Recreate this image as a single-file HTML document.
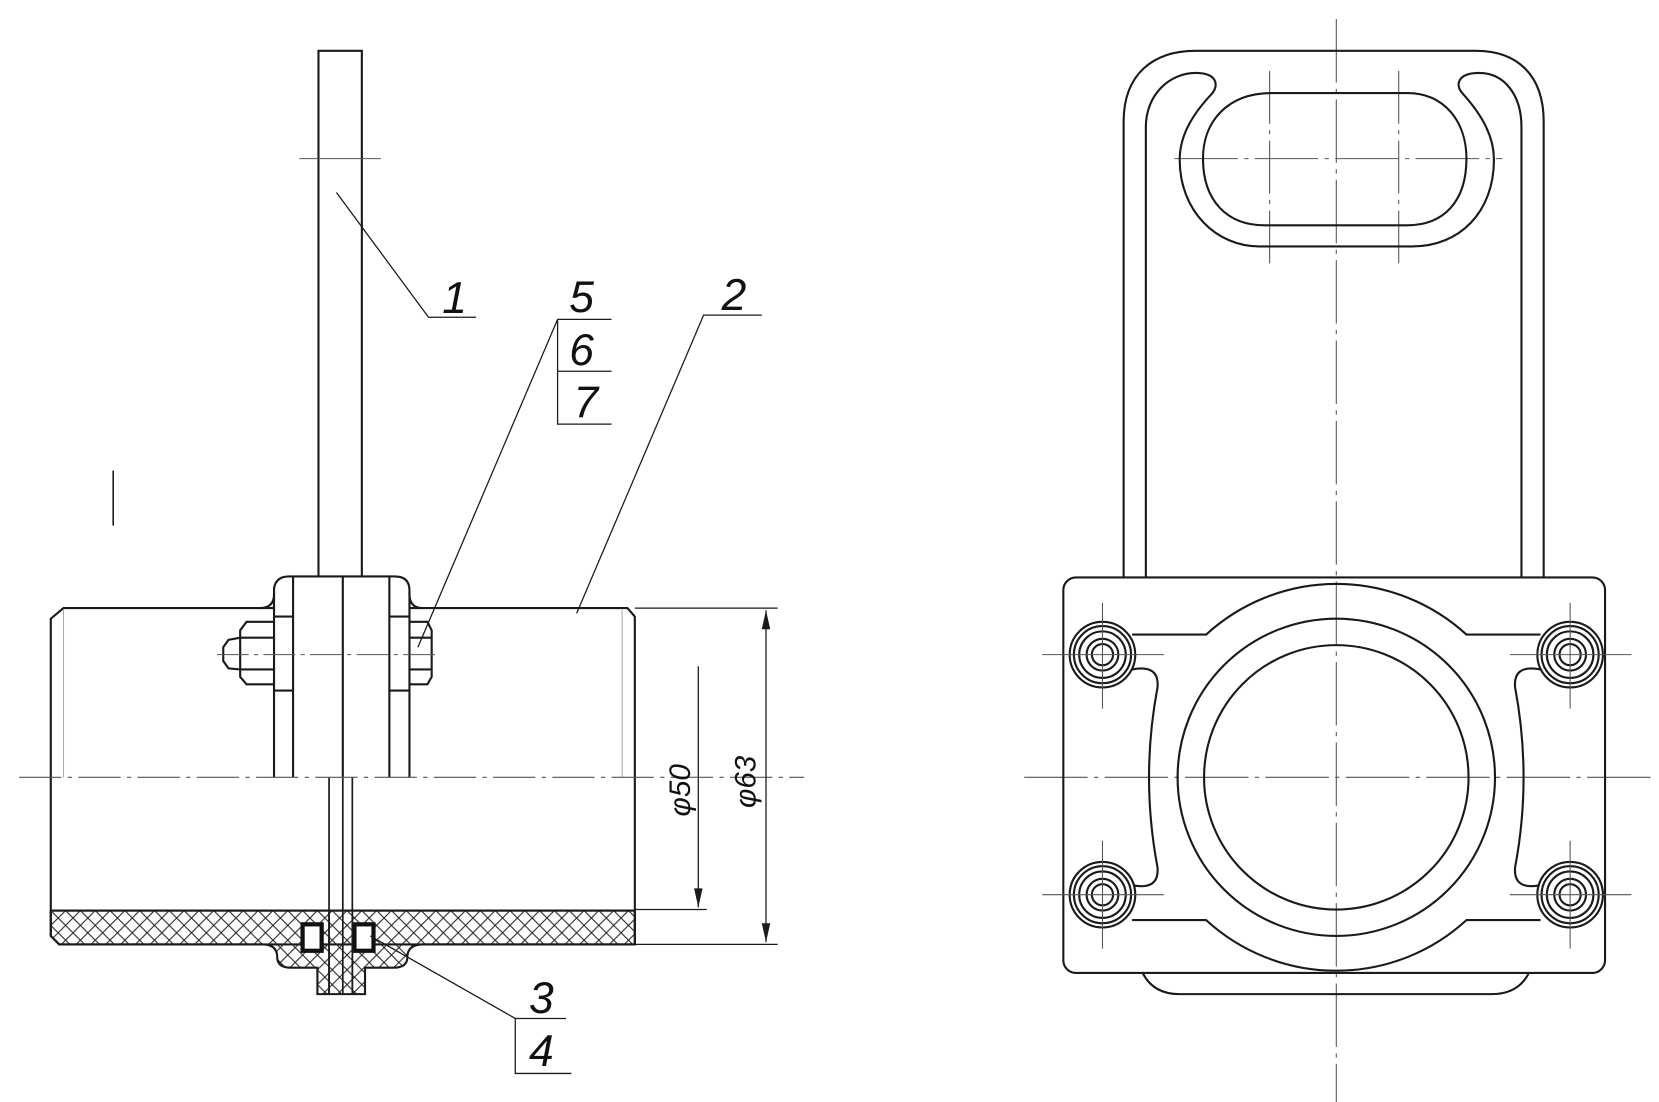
<!DOCTYPE html>
<html><head><meta charset="utf-8"><style>
html,body{margin:0;padding:0;background:#fff;width:1659px;height:1102px;overflow:hidden}
svg{display:block}
text{font-family:"Liberation Sans",sans-serif;font-style:italic;fill:#111}
</style></head><body>
<svg width="1659" height="1102" viewBox="0 0 1568 1042" preserveAspectRatio="none">
<defs>
<pattern id="h" width="14" height="14" patternUnits="userSpaceOnUse" patternTransform="translate(48,861)">
<path d="M0,0 L14,14 M14,0 L0,14" stroke="#222" stroke-width="1"/>
</pattern>
</defs>
<rect width="1568" height="1042" fill="#fff"/>
<g fill="none" stroke="#1a1a1a" stroke-width="2">
<path d="M301,546 L301,48 L342,48 L342,546"/>
<path d="M259,575 L60,575 L48,585 L48,885 L56,893 L600,893 L600,583 L593,575 L387,575"/>
<path d="M48,861 L600,861"/>
<path d="M245,575 Q259,575 259,562 L259,556 Q261,545 273,545 L373,545 Q387,545 387,558 L387,562 Q387,575 400,575"/>
<path d="M277,545 L277,735 M368,545 L368,735 M259,560 L259,735 M387,560 L387,735 M324,545 L324,735"/>
<path d="M259,583 L277,583 M259,653 L277,653 M368,583 L387,583 M368,653 L387,653"/>
<path d="M259,588 L233,588 L227,596 L227,640 L233,647 L259,647 M227,603 L259,603 M227,633 L259,633"/>
<path d="M227,603 L216,605 L211,612 L211,625 L216,632 L227,633"/>
<path d="M387,588 L404,588 L408,596 L408,640 L404,647 L387,647 M387,603 L408,603 M387,633 L408,633"/>
<path d="M311,735 L311,940 M333,735 L333,940 M324,735 L324,940" stroke-width="1.6"/>
</g>
<path d="M48,861 L600,861 L600,893 L400,893 Q385,893 385,905 Q385,915 372,915 L345,915 L345,940 L300,940 L300,915 L275,915 Q262,915 262,905 Q262,893 248,893 L56,893 L48,885 Z" fill="url(#h)" stroke="#1a1a1a" stroke-width="2"/>
<rect x="286" y="874" width="18" height="25" fill="#fff" stroke="#111" stroke-width="4"/>
<rect x="335" y="874" width="18" height="25" fill="#fff" stroke="#111" stroke-width="4"/>
<path d="M311,861 L311,940 M333,861 L333,940" stroke="#1a1a1a" stroke-width="1.6"/>
<g fill="none" stroke="#555" stroke-width="1">
<path d="M60,577 L60,735 M588,577 L588,735" stroke="#aaa"/>
<path d="M18,735 L760,735" stroke-dasharray="40,6,4,6"/>
<path d="M205,619 L415,619" stroke-dasharray="30,5,4,5"/>
<path d="M283,150 L360,150"/>
</g>
<g fill="none" stroke="#1a1a1a" stroke-width="1.2">
<path d="M318,182 L405,300 L450,300"/>
<path d="M395,612 L527,302 L578,302 M527,302 L527,401 L578,401 M527,351 L578,351"/>
<path d="M545,580 L665,298 L720,298"/>
<path d="M350,885 L487,963 L535,963 M487,963 L487,1015 L540,1015"/>
<path d="M107,445 L107,497" stroke-width="1.5"/>
<path d="M600,575 L735,575 M600,893 L735,893 M600,860 L668,860"/>
<path d="M724,577 L724,891 M660,630 L660,858"/>
</g>
<g fill="#1a1a1a">
<path d="M724,577 L720,595 L728,595 Z M724,891 L720,873 L728,873 Z M660,858 L656,840 L664,840 Z"/>
</g>
<g font-size="42">
<text x="418" y="296">1</text>
<text x="538" y="295">5</text>
<text x="538" y="345">6</text>
<text x="542" y="395">7</text>
<text x="682" y="293">2</text>
<text x="500" y="958">3</text>
<text x="500" y="1008">4</text>
</g>
<text font-size="28" transform="translate(652,772) rotate(-90)">φ50</text>
<text font-size="28" transform="translate(714,764) rotate(-90)">φ63</text>

<g fill="none" stroke="#555" stroke-width="1">
<path d="M1263,18 L1263,1042" stroke-dasharray="60,6,4,6"/>
<path d="M968,735 L1560,735" stroke-dasharray="60,6,4,6"/>
<path d="M1110,150 L1420,150" stroke-dasharray="60,6,4,6"/>
<path d="M1200,67 L1200,255 M1322,67 L1322,255" stroke-dasharray="50,6,4,6"/>
</g>
<g fill="none" stroke="#1a1a1a" stroke-width="2">
<path d="M1062,546 L1062,115 C1062,70 1090,48 1130,48 L1395,48 C1435,48 1459,72 1459,115 L1459,546"/>
<path d="M1083,546 L1083,120 C1083,90 1105,69 1130,69 C1150,69 1152,80 1146,88 C1125,110 1115,130 1115,151 C1115,200 1150,233 1190,233 L1335,233 C1380,233 1412,200 1412,151 C1412,130 1402,110 1382,88 C1375,80 1378,69 1398,69 C1422,69 1438,90 1438,120 L1438,546"/>
<path d="M1202,88 L1330,88 C1365,88 1386,115 1386,150 C1386,190 1365,213 1330,213 L1195,213 C1160,213 1137,190 1137,150 C1137,115 1160,88 1202,88 Z"/>
<rect x="1005" y="546" width="512" height="374" rx="12"/>
<path d="M1080,920 Q1090,940 1115,940 L1410,940 Q1435,940 1445,920"/>
<circle cx="1263" cy="735" r="150"/>
<circle cx="1263" cy="735" r="125"/>
<path d="M1070,600 L1140,600 A182,182 0 0 1 1386,600 L1456,600"/>
<path d="M1070,870 L1140,870 A182,182 0 0 0 1386,870 L1456,870"/>
<path d="M1070,633 Q1096,628 1094,650 Q1078,735 1094,820 Q1096,842 1070,837"/>
<path d="M1456,633 Q1430,628 1432,650 Q1448,735 1432,820 Q1430,842 1456,837"/>
</g>
<g fill="none" stroke="#1a1a1a" stroke-width="2">
<g transform="translate(1042,619)"><circle r="31" fill="#fff"/><circle r="27"/><circle r="22"/><circle r="15"/><circle r="10"/></g>
<g transform="translate(1484,619)"><circle r="31" fill="#fff"/><circle r="27"/><circle r="22"/><circle r="15"/><circle r="10"/></g>
<g transform="translate(1042,846)"><circle r="31" fill="#fff"/><circle r="27"/><circle r="22"/><circle r="15"/><circle r="10"/></g>
<g transform="translate(1484,846)"><circle r="31" fill="#fff"/><circle r="27"/><circle r="22"/><circle r="15"/><circle r="10"/></g>
</g>
<g stroke="#555" stroke-width="1">
<path d="M985,619 L1100,619 M1042,570 L1042,670"/>
<path d="M1427,619 L1542,619 M1484,570 L1484,670"/>
<path d="M985,846 L1100,846 M1042,795 L1042,897"/>
<path d="M1427,846 L1542,846 M1484,795 L1484,897"/>
</g>
</svg>
</body></html>
